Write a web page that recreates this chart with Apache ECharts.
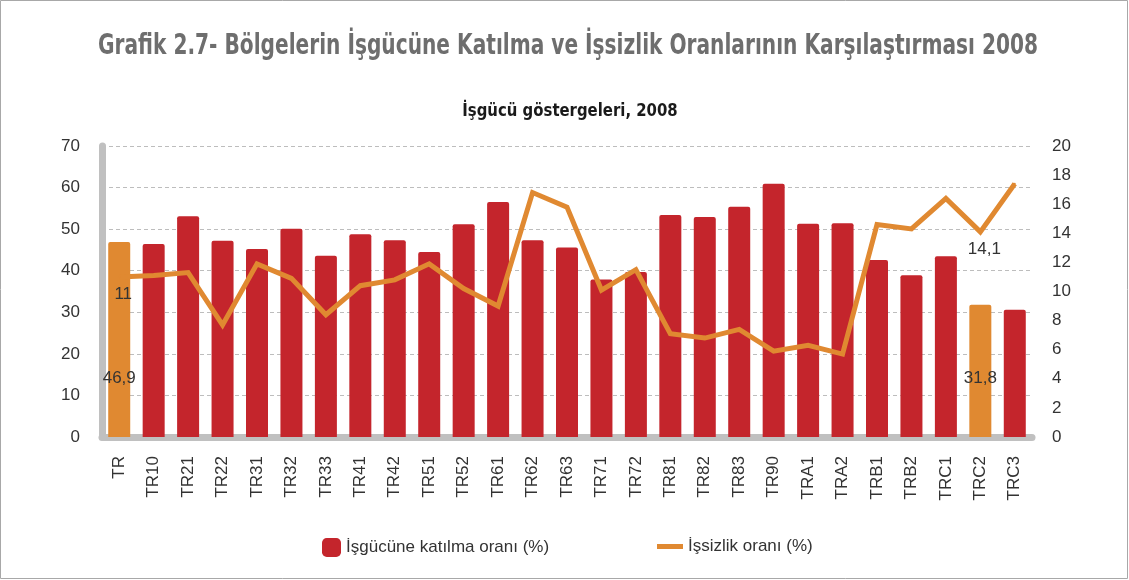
<!DOCTYPE html>
<html>
<head>
<meta charset="utf-8">
<script src="https://cdn.jsdelivr.net/npm/echarts@6/dist/echarts.min.js"></script>
<style>
  html, body { margin: 0; padding: 0; background: #fff; }
  #chart { width: 1129px; height: 580px; }
</style>
</head>
<body>
<div id="chart"></div>
<script>
// bölgeler
var categories = ['TR', 'TR10', 'TR21', 'TR22', 'TR31', 'TR32', 'TR33', 'TR41', 'TR42', 'TR51',
  'TR52', 'TR61', 'TR62', 'TR63', 'TR71', 'TR72', 'TR81', 'TR82', 'TR83', 'TR90',
  'TRA1', 'TRA2', 'TRB1', 'TRB2', 'TRC1', 'TRC2', 'TRC3'];

// işgücüne katılma oranı (%)
var participation = [46.9, 46.4, 53.1, 47.2, 45.2, 50.1, 43.6, 48.8, 47.3, 44.5,
  51.2, 56.5, 47.3, 45.6, 37.9, 39.7, 53.4, 52.9, 55.4, 60.9,
  51.3, 51.4, 42.6, 38.9, 43.5, 31.8, 30.6];

// işsizlik oranı (%)
var unemployment = [11.0, 11.1, 11.3, 7.7, 11.9, 10.9, 8.4, 10.4, 10.8, 11.9,
  10.2, 9.0, 16.8, 15.8, 10.1, 11.5, 7.1, 6.8, 7.4, 5.9,
  6.3, 5.7, 14.6, 14.3, 16.4, 14.1, 17.4];

var highlighted = ['TR', 'TRC2'];

var RED = '#c4252c', ORANGE = '#e08931';
var FONT = '"Liberation Sans", Arial, sans-serif';
var COND = '"DejaVu Sans Condensed", "DejaVu Sans", sans-serif';

function fmt(v) { return String(v).replace('.', ','); }

var barData = participation.map(function (v, i) {
  var item = { value: v };
  if (highlighted.indexOf(categories[i]) >= 0) {
    item.itemStyle = { color: ORANGE };
    item.label = { show: true, position: 'insideBottom', distance: 50,
      formatter: function (p) { return fmt(p.value); } };
  }
  return item;
});

var lineData = unemployment.map(function (v, i) {
  var item = { value: v };
  if (highlighted.indexOf(categories[i]) >= 0) {
    item.label = { show: true, position: 'bottom', distance: 8, offset: [4, 0],
      formatter: function (p) { return fmt(p.value); } };
  }
  return item;
});

var chart = echarts.init(document.getElementById('chart'));
chart.setOption({
  animation: false,
  textStyle: { fontFamily: FONT },
  graphic: [{
    type: 'rect', silent: true,
    shape: { x: 0.5, y: 0.5, width: 1127, height: 578 },
    style: { fill: 'none', stroke: '#a8a8a8', lineWidth: 1 }
  }, {
    // condensed heading, squeezed horizontally
    type: 'text', silent: true,
    x: 568, y: 47, scaleX: 0.8,
    style: {
      text: 'Grafik 2.7- Bölgelerin İşgücüne Katılma ve İşsizlik Oranlarının Karşılaştırması 2008',
      font: 'bold 28px ' + COND, fill: '#6e6e6e',
      align: 'center', verticalAlign: 'middle'
    }
  }, {
    type: 'text', silent: true,
    x: 570, y: 111, scaleX: 0.92,
    style: {
      text: 'İşgücü göstergeleri, 2008',
      font: 'bold 18px ' + COND, fill: '#1a1a1a',
      align: 'center', verticalAlign: 'middle'
    }
  }],
  legend: [{
    data: ['İşgücüne katılma oranı (%)'],
    left: 317, top: 533,
    itemWidth: 19, itemHeight: 19, icon: 'roundRect',
    textStyle: { fontSize: 17, color: '#333' }
  }, {
    data: [{ name: 'İşsizlik oranı (%)', icon: 'rect' }],
    left: 652, top: 533,
    itemWidth: 26, itemHeight: 5,
    textStyle: { fontSize: 17, color: '#333' }
  }],
  grid: { left: 102, right: 97, top: 146, bottom: 143 },
  xAxis: {
    type: 'category',
    data: categories,
    axisLine: { lineStyle: { color: '#c0c0c0', width: 7 } },
    axisTick: { show: false },
    axisLabel: { rotate: 90, margin: 19, fontSize: 17, color: '#333', interval: 0 }
  },
  yAxis: [{
    type: 'value', min: 0, max: 70, interval: 10,
    axisLine: { show: true, lineStyle: { color: '#c0c0c0', width: 7 } },
    axisTick: { show: false },
    axisLabel: { fontSize: 17, color: '#333', margin: 22 },
    splitLine: { lineStyle: { color: '#bdbdbd', type: [4, 3], width: 1 } }
  }, {
    type: 'value', min: 0, max: 20, interval: 2,
    axisLine: { show: false },
    axisTick: { show: false },
    axisLabel: { fontSize: 17, color: '#333', margin: 20 },
    splitLine: { show: false }
  }],
  series: [{
    name: 'İşgücüne katılma oranı (%)',
    type: 'bar',
    data: barData,
    barWidth: 22,
    itemStyle: { color: RED, borderRadius: [2, 2, 0, 0] },
    label: { fontSize: 17, color: '#333' }
  }, {
    name: 'İşsizlik oranı (%)',
    type: 'line',
    yAxisIndex: 1,
    data: lineData,
    symbol: 'circle',
    symbolSize: 2,
    showSymbol: true,
    lineStyle: { color: ORANGE, width: 5, join: 'miter' },
    itemStyle: { color: ORANGE },
    label: { fontSize: 17, color: '#333' },
    z: 3
  }]
});
</script>
</body>
</html>
